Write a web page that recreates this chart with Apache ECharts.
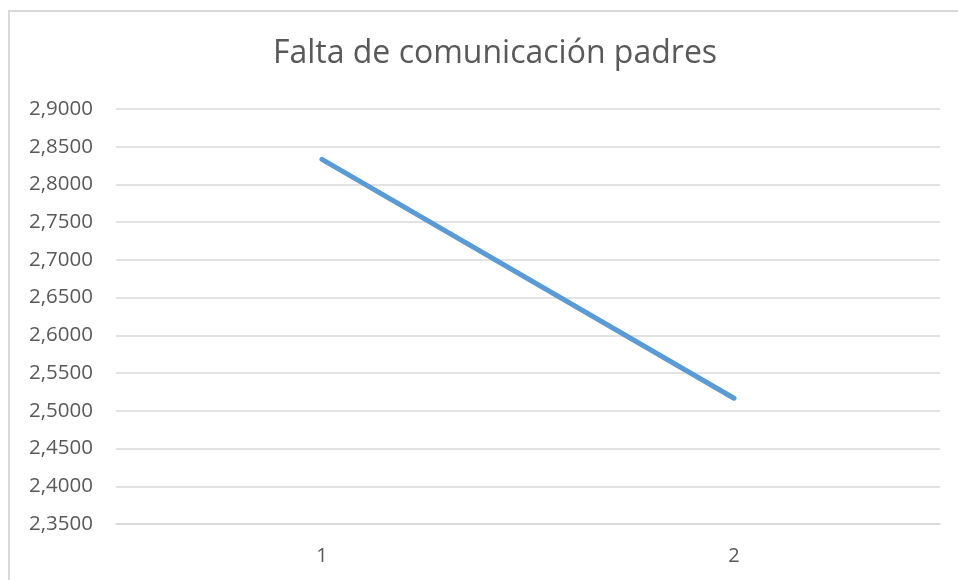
<!DOCTYPE html>
<html>
<head>
<meta charset="utf-8">
<script src="https://cdn.jsdelivr.net/npm/echarts@6/dist/echarts.min.js"></script>
<style>
  html, body { margin: 0; padding: 0; background: #ffffff; }
  #chart { width: 958px; height: 580px; }
</style>
</head>
<body>
<div id="chart"></div>
<script>
// Chart data
const categories = ['1', '2'];
const values = [2.8333, 2.5167];
const titleText = 'Falta de comunicación padres';

const chart = echarts.init(document.getElementById('chart'));

chart.setOption({
  animation: false,
  backgroundColor: '#ffffff',
  textStyle: { fontFamily: 'Open Sans' },
  title: {
    text: titleText,
    left: 490,
    top: 33,
    textAlign: 'center',
    textStyle: {
      fontFamily: 'Open Sans',
      fontSize: 32,
      fontWeight: 'normal',
      color: '#595959'
    }
  },
  graphic: [{
    type: 'rect',
    shape: { x: 9, y: 11, width: 1000, height: 600 },
    style: { fill: 'none', stroke: '#d9d9d9', lineWidth: 2 },
    silent: true
  }],
  grid: { left: 116, right: 18, top: 109, bottom: 56 },
  xAxis: {
    type: 'category',
    data: categories,
    boundaryGap: true,
    axisLine: { show: true, lineStyle: { color: '#d9d9d9', width: 1.5 } },
    axisTick: { show: false },
    axisLabel: {
      margin: 22,
      fontSize: 20,
      color: '#595959',
      fontFamily: 'Open Sans'
    }
  },
  yAxis: {
    type: 'value',
    min: 2.35,
    max: 2.9,
    interval: 0.05,
    axisLine: { show: false },
    axisTick: { show: false },
    splitLine: { lineStyle: { color: '#d9d9d9', width: 1.5 } },
    axisLabel: {
      margin: 23,
      fontSize: 20.5,
      color: '#595959',
      fontFamily: 'Open Sans',
      formatter: v => v.toFixed(4).replace('.', ',')
    }
  },
  series: [{
    type: 'line',
    data: values,
    symbol: 'none',
    lineStyle: { color: '#5b9bd5', width: 5, cap: 'round' }
  }]
});
</script>
</body>
</html>
